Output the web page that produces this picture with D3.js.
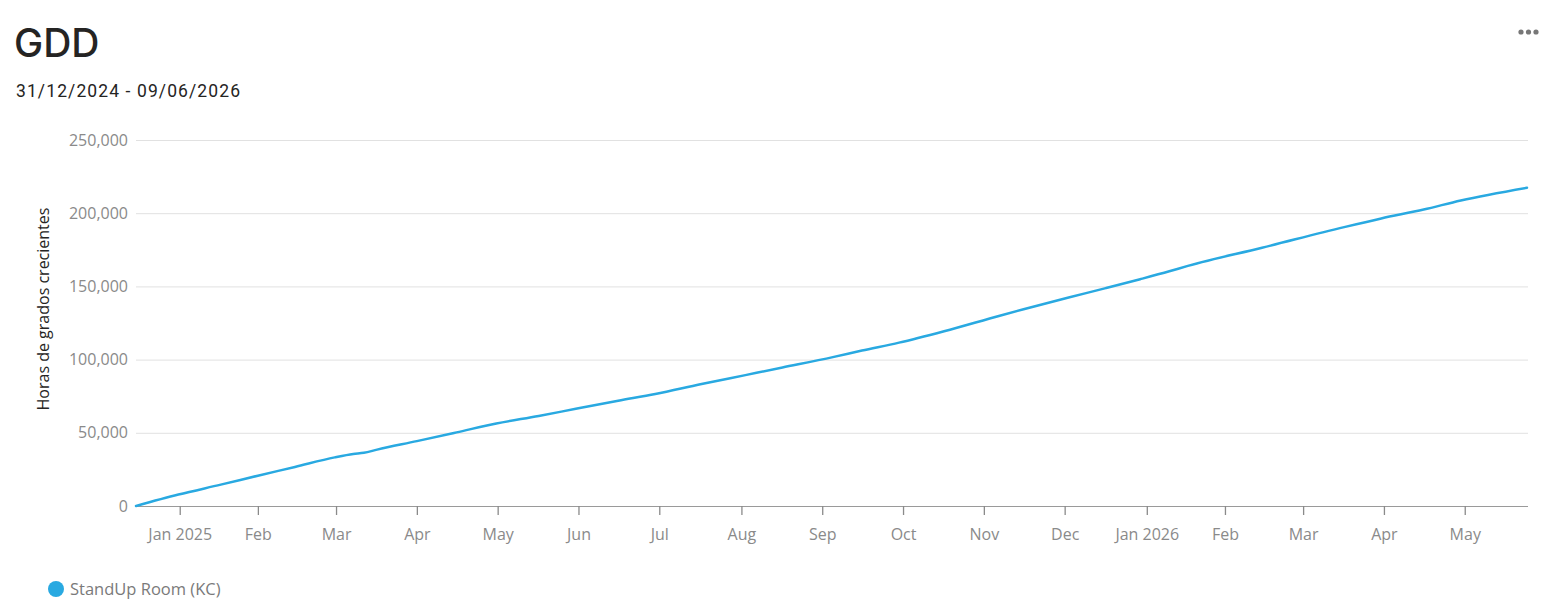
<!DOCTYPE html>
<html>
<head>
<meta charset="utf-8">
<script src="https://cdn.jsdelivr.net/npm/d3@7/dist/d3.min.js"></script>
<style>
  html, body { margin: 0; padding: 0; background: #fff; }
  svg { display: block; }
</style>
</head>
<body>
<svg id="chart" width="1562" height="608"></svg>
<script>
// ---- data ----
const title = "GDD";
const subtitle = "31/12/2024 - 09/06/2026";
const yAxisTitle = "Horas de grados crecientes";
const seriesName = "StandUp Room (KC)";
const domainStart = "2024-12-31";
const domainEnd = "2026-06-09";
const dates = [
  "2024-12-31","2025-01-16","2025-02-01","2025-02-15","2025-03-01","2025-03-16",
  "2025-03-23","2025-03-27","2025-04-01","2025-04-16","2025-05-01","2025-05-16",
  "2025-06-01","2025-06-15","2025-07-01","2025-07-15","2025-08-01","2025-08-18",
  "2025-09-01","2025-09-20","2025-10-01","2025-10-15","2025-11-01","2025-11-22",
  "2025-12-01","2025-12-18","2026-01-01","2026-01-14","2026-01-25","2026-02-01",
  "2026-03-01","2026-04-01","2026-04-15","2026-05-01","2026-05-15","2026-06-09"
];
const values = [
  0, 7800, 14600, 20700, 26700, 33200,
  35500, 36300, 38500, 44300, 50300, 56400,
  61500, 66400, 71900, 76500, 83100, 89400,
  94600, 101700, 106200, 111600, 119400, 130000,
  134400, 142400, 148800, 154900, 160300, 164000,
  176400, 190500, 196400, 202500, 208700, 217400
];
const yTicks = [0, 50000, 100000, 150000, 200000, 250000];
const xTickMonths = [
  "2025-01","2025-02","2025-03","2025-04","2025-05","2025-06","2025-07","2025-08",
  "2025-09","2025-10","2025-11","2025-12","2026-01","2026-02","2026-03","2026-04","2026-05"
];
const xTickLabels = [
  "Jan 2025","Feb","Mar","Apr","May","Jun","Jul","Aug",
  "Sep","Oct","Nov","Dec","Jan 2026","Feb","Mar","Apr","May"
];

// ---- layout ----
const lineColor = "#29a9e1";
const plotL = 136, plotR = 1527, plotT = 140, plotB = 506;
const parse = d3.utcParse("%Y-%m-%d");
const svg = d3.select("#chart");
const font = "'Open Sans', 'Segoe UI', sans-serif";

const x = d3.scaleUtc().domain([parse(domainStart), parse(domainEnd)]).range([plotL, plotR]);
const y = d3.scaleLinear().domain([0, 250000]).range([plotB, plotT]);

// title & subtitle
svg.append("text").attr("x", 14).attr("y", 57)
  .attr("font-family", "Inter, Roboto, sans-serif").attr("font-size", 39).attr("font-weight", 500)
  .attr("fill", "#252423").text(title);
svg.append("text").attr("x", 16).attr("y", 97)
  .attr("font-family", "Roboto, sans-serif").attr("font-size", 17.5).attr("letter-spacing", 1.1)
  .attr("fill", "#252423").text(subtitle);

// ellipsis
svg.append("g").selectAll("circle").data([0, 1, 2]).join("circle")
  .attr("cx", d => 1521 + d * 7.5).attr("cy", 32).attr("r", 2.6).attr("fill", "#777");

// gridlines + y axis labels
const yAxis = d3.axisLeft(y).tickValues(yTicks).tickSize(-(plotR - plotL + 1))
  .tickFormat(d3.format(","));
const gy = svg.append("g").attr("transform", `translate(${plotL},0)`).call(yAxis);
gy.select(".domain").remove();
gy.selectAll(".tick line").attr("stroke", "#e1e1e1").attr("stroke-width", 1);
gy.selectAll(".tick line").filter(d => d === 0).remove();
gy.selectAll(".tick text").attr("x", -8).attr("font-family", font).attr("font-size", 16)
  .attr("fill", "#8a8a8a");

// x axis (ticks at month centres)
const tickDates = xTickMonths.map(m => {
  const s = d3.utcParse("%Y-%m")(m);
  const e = d3.utcMonth.offset(s, 1);
  return new Date((s.getTime() + e.getTime()) / 2);
});
const xAxis = d3.axisBottom(x).tickValues(tickDates).tickSize(9).tickPadding(14)
  .tickFormat((d, i) => xTickLabels[i]);
const gx = svg.append("g").attr("transform", `translate(0,${plotB})`).call(xAxis);
gx.select(".domain").attr("stroke", "#9a9a9a").attr("d", `M${plotL},0.5H${plotR + 1}`);
gx.selectAll(".tick line").attr("stroke", "#8a8a8a").attr("stroke-width", 1.3);
gx.selectAll(".tick text").attr("font-family", font).attr("font-size", 16).attr("fill", "#8a8a8a");

// y axis title
svg.append("text")
  .attr("transform", `translate(49,${(plotT + plotB) / 2 - 14}) rotate(-90)`)
  .attr("text-anchor", "middle").attr("font-family", font).attr("font-size", 16)
  .attr("fill", "#252423").text(yAxisTitle);

// line
const data = dates.map((d, i) => ({ date: parse(d), value: values[i] }));
const line = d3.line().x(d => x(d.date)).y(d => y(d.value)).curve(d3.curveMonotoneX);
svg.append("path").datum(data).attr("d", line)
  .attr("fill", "none").attr("stroke", lineColor).attr("stroke-width", 2.5)
  .attr("stroke-linejoin", "round").attr("stroke-linecap", "round");

// legend
svg.append("circle").attr("cx", 56).attr("cy", 589).attr("r", 8).attr("fill", lineColor);
svg.append("text").attr("x", 70).attr("y", 595).attr("font-family", font).attr("font-size", 16.5)
  .attr("fill", "#7a7a7a").text(seriesName);
</script>
</body>
</html>
